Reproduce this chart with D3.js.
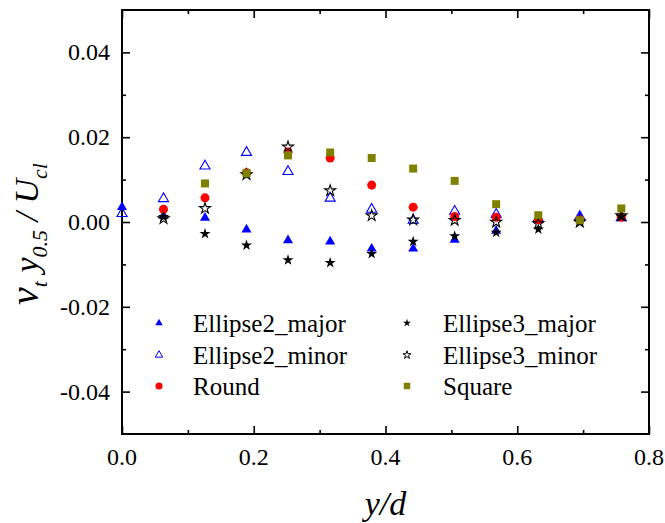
<!DOCTYPE html>
<html>
<head>
<meta charset="utf-8">
<script src="https://cdn.jsdelivr.net/npm/d3@7/dist/d3.min.js"></script>
</head>
<body style="margin:0;background:#fff">
<svg id="chart" width="665" height="523" style="display:block"></svg>
<script>
// Radial positions y/d shared by every profile
const yOverD = [0, 0.063, 0.126, 0.189, 0.252, 0.316, 0.379, 0.442, 0.505, 0.568, 0.632, 0.695, 0.758];

// Normalised eddy viscosity for each nozzle profile (null = no sample)
const ellipse2Major = [0.0035, 0.0015, 0.0010, -0.0018, -0.0043, -0.0046, -0.0063, -0.0063, -0.0042, -0.0021, 0.0005, 0.0012, 0.0010];
const ellipse2Minor = [0.0020, 0.0055, 0.0132, 0.0164, 0.0119, 0.0056, 0.0030, 0.0004, 0.0025, 0.0018, 0.0008, 0.0013, 0.0010];
const roundJet      = [null, 0.0030, 0.0057, 0.0116, 0.0165, 0.0151, 0.0087, 0.0035, 0.0013, 0.0011, 0.0005, 0.0005, 0.0011];
const ellipse3Major = [null, 0.0012, -0.0028, -0.0055, -0.0090, -0.0096, -0.0075, -0.0046, -0.0033, -0.0025, -0.0017, 0.0000, 0.0012];
const ellipse3Minor = [null, 0.0008, 0.0032, 0.0112, 0.0177, 0.0074, 0.0015, 0.0005, 0.0004, 0.0000, -0.0004, 0.0000, 0.0015];
const squareJet     = [null, null, 0.0091, 0.0115, 0.0157, 0.0164, 0.0151, 0.0126, 0.0097, 0.0042, 0.0016, 0.0004, 0.0032];

const seriesNames = ["Ellipse2_major", "Ellipse2_minor", "Round", "Ellipse3_major", "Ellipse3_minor", "Square"];

const xTickValues = [0.0, 0.2, 0.4, 0.6, 0.8];
const xTickLabels = ["0.0", "0.2", "0.4", "0.6", "0.8"];
const yTickValues = [0.04, 0.02, 0.0, -0.02, -0.04];
const yTickLabels = ["0.04", "0.02", "0.00", "-0.02", "-0.04"];

const serif = '"Liberation Serif"';

// Marker styling per series
const styles = [
  { values: ellipse2Major, shape: d3.symbolTriangle, size: 44, legSize: 24, fill: "#0000ff", stroke: "none" },
  { values: ellipse2Minor, shape: d3.symbolTriangle, size: 44, legSize: 24, fill: "none", stroke: "#0000ff" },
  { values: roundJet,      shape: d3.symbolCircle,   size: 64, legSize: 40, fill: "#ff0000", stroke: "none" },
  { values: ellipse3Major, shape: d3.symbolStar,     size: 38, legSize: 20, fill: "#000000", stroke: "none" },
  { values: ellipse3Minor, shape: d3.symbolStar,     size: 38, legSize: 20, fill: "none", stroke: "#000000" },
  { values: squareJet,     shape: d3.symbolSquare,   size: 64, legSize: 42, fill: "#808000", stroke: "none" }
];

const svg = d3.select("#chart");
const plot = { left: 122, right: 649, top: 10, bottom: 434 };

const x = d3.scaleLinear().domain([0, 0.8]).range([plot.left, plot.right]);
const y = d3.scaleLinear().domain([-0.05, 0.05]).range([plot.bottom, plot.top]);

// Frame ticks (inward on all four sides)
const xMinor = [0.1, 0.3, 0.5, 0.7];
const yMinor = [-0.03, -0.01, 0.01, 0.03];
const axisColor = "#000";

const bottomAxis = d3.axisBottom(x).tickValues(xTickValues).tickSize(-8).tickFormat("");
const topAxis = d3.axisTop(x).tickValues(xTickValues).tickSize(-8).tickFormat("");
const leftAxis = d3.axisLeft(y).tickValues(yTickValues).tickSize(-8).tickFormat("");
const rightAxis = d3.axisRight(y).tickValues(yTickValues).tickSize(-8).tickFormat("");
const bottomMinor = d3.axisBottom(x).tickValues(xMinor).tickSize(-4).tickFormat("");
const topMinor = d3.axisTop(x).tickValues(xMinor).tickSize(-4).tickFormat("");
const leftMinor = d3.axisLeft(y).tickValues(yMinor).tickSize(-4).tickFormat("");
const rightMinor = d3.axisRight(y).tickValues(yMinor).tickSize(-4).tickFormat("");

function addAxis(axis, transform) {
  const g = svg.append("g").attr("transform", transform).call(axis);
  g.select(".domain").remove();
  g.selectAll(".tick line").attr("stroke", axisColor).attr("stroke-width", 1.6);
  return g;
}
addAxis(bottomAxis, `translate(0,${plot.bottom})`);
addAxis(topAxis, `translate(0,${plot.top})`);
addAxis(leftAxis, `translate(${plot.left},0)`);
addAxis(rightAxis, `translate(${plot.right},0)`);
addAxis(bottomMinor, `translate(0,${plot.bottom})`);
addAxis(topMinor, `translate(0,${plot.top})`);
addAxis(leftMinor, `translate(${plot.left},0)`);
addAxis(rightMinor, `translate(${plot.right},0)`);

svg.append("rect")
  .attr("x", plot.left).attr("y", plot.top)
  .attr("width", plot.right - plot.left).attr("height", plot.bottom - plot.top)
  .attr("fill", "none").attr("stroke", axisColor).attr("stroke-width", 2);

// Tick labels
svg.append("g").selectAll("text").data(xTickValues).join("text")
  .attr("x", d => x(d)).attr("y", plot.bottom + 31)
  .attr("text-anchor", "middle").attr("font-size", 24).style("font-family", serif)
  .text((d, i) => xTickLabels[i]);

svg.append("g").selectAll("text").data(yTickValues).join("text")
  .attr("x", plot.left - 12).attr("y", d => y(d) + 8)
  .attr("text-anchor", "end").attr("font-size", 24).style("font-family", serif)
  .text((d, i) => yTickLabels[i]);

// Axis titles
svg.append("text")
  .attr("x", (plot.left + plot.right) / 2).attr("y", 515)
  .attr("text-anchor", "middle").attr("font-size", 34).attr("font-style", "italic")
  .style("font-family", serif)
  .text("y/d");

const yTitle = svg.append("text")
  .attr("transform", "translate(38,234) rotate(-90)")
  .attr("text-anchor", "middle").attr("font-style", "italic").attr("font-size", 34)
  .style("font-family", serif);
yTitle.append("tspan").attr("font-size", 40).text("ν");
yTitle.append("tspan").attr("font-size", 22).attr("dy", 9).text("t");
yTitle.append("tspan").attr("dy", -9).text(" y");
yTitle.append("tspan").attr("font-size", 22).attr("dy", 9).text("0.5");
yTitle.append("tspan").attr("dy", -9).text(" / U");
yTitle.append("tspan").attr("font-size", 22).attr("dy", 9).text("cl");

// Data markers
styles.forEach((s, si) => {
  const pts = yOverD.map((xv, i) => ({ xv, yv: s.values[i] })).filter(p => p.yv !== null);
  svg.append("g").attr("class", "series-" + si)
    .selectAll("path").data(pts).join("path")
    .attr("transform", p => `translate(${x(p.xv)},${y(p.yv)})`)
    .attr("d", d3.symbol().type(s.shape).size(s.size))
    .attr("fill", s.fill)
    .attr("stroke", s.stroke)
    .attr("stroke-width", s.stroke === "none" ? 0 : 1.1);
});

// Legend (two columns of three)
const legendCols = [{ mx: 159, tx: 193 }, { mx: 407, tx: 443 }];
const legendRows = [323, 355, 386];
styles.forEach((s, si) => {
  const col = legendCols[Math.floor(si / 3)];
  const row = legendRows[si % 3];
  svg.append("path")
    .attr("transform", `translate(${col.mx},${row})`)
    .attr("d", d3.symbol().type(s.shape).size(s.legSize))
    .attr("fill", s.fill)
    .attr("stroke", s.stroke)
    .attr("stroke-width", s.stroke === "none" ? 0 : 1);
  svg.append("text")
    .attr("x", col.tx).attr("y", row + 9)
    .attr("font-size", 25).style("font-family", serif)
    .text(seriesNames[si]);
});
</script>
</body>
</html>
